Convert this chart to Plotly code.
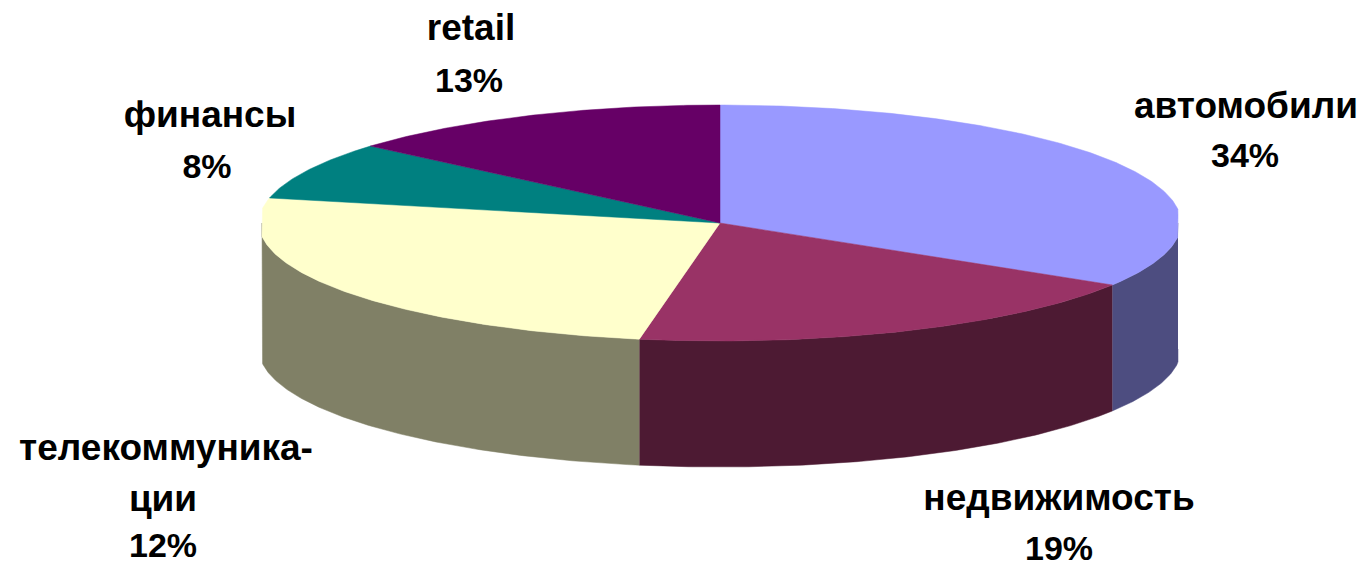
import numpy as np
import plotly.graph_objects as go

# slice shares (the printed labels differ for telecom)
categories = ["автомобили", "недвижимость", "телекоммуника-ции", "финансы", "retail"]
shares = [33.8, 19.0, 25.6, 7.9, 13.7]
top_colors = ["#9999FF", "#993366", "#FFFFCC", "#008080", "#660066"]
wall_colors = ["#4D4D80", "#4D1A33", "#808066", "#004040", "#330033"]

name_lines = ["retail", "финансы", "автомобили", "телекоммуника-", "ции", "недвижимость"]
name_x = [471, 210, 1246, 166, 163, 1059]
name_y = [31, 118, 109, 451, 502, 501]

pct_lines = ["13%", "8%", "34%", "12%", "19%"]
pct_x = [469, 207, 1245, 163, 1059]
pct_y = [83, 169, 158, 548, 551]

# pie geometry in page pixels, the ellipse is cut flat at the left and right edges
CX, CY = 720, 223
RX, RY = 461, 118
DEPTH = 126
LEFT, RIGHT = 262, 1178

WIDTH, HEIGHT = 1362, 566


def arc(a0, a1, dy=0.0):
    # angles are clockwise from 12 o'clock, in degrees
    t = np.radians(np.linspace(a0, a1, max(int(abs(a1 - a0)) * 2, 2)))
    return np.clip(CX + RX * np.sin(t), LEFT, RIGHT), CY - RY * np.cos(t) + dy


edges = np.concatenate([[0], np.cumsum(shares)]) / np.sum(shares) * 360

fig = go.Figure()

# side walls, only the front half of the pie is visible
for i, cat in enumerate(categories):
    a0, a1 = max(edges[i], 90), min(edges[i + 1], 270)
    if a1 <= a0:
        continue
    tx, ty = arc(a0, a1)
    bx, by = arc(a1, a0, DEPTH)
    fig.add_trace(go.Scatter(
        x=np.concatenate([tx, bx]), y=np.concatenate([ty, by]),
        mode="lines", fill="toself", fillcolor=wall_colors[i],
        line=dict(color=wall_colors[i], width=0.5),
        name=cat, hoverinfo="skip", showlegend=False,
    ))

# top faces
for i, cat in enumerate(categories):
    ax, ay = arc(edges[i], edges[i + 1])
    fig.add_trace(go.Scatter(
        x=np.concatenate([[CX], ax, [CX]]), y=np.concatenate([[CY], ay, [CY]]),
        mode="lines", fill="toself", fillcolor=top_colors[i],
        line=dict(color=top_colors[i], width=0.5),
        name=cat, hoverinfo="name", showlegend=False,
    ))

# labels: names are a bit wider than the percentages in the original
fig.add_trace(go.Scatter(
    x=name_x, y=name_y, text=name_lines, mode="text",
    textposition="middle center",
    textfont=dict(family="Liberation Sans", size=37, color="black", weight="bold"),
    hoverinfo="skip", showlegend=False,
))
fig.add_trace(go.Scatter(
    x=pct_x, y=pct_y, text=pct_lines, mode="text",
    textposition="middle center",
    textfont=dict(family="Liberation Sans", size=34, color="black", weight="bold"),
    hoverinfo="skip", showlegend=False,
))

fig.update_layout(
    width=WIDTH, height=HEIGHT,
    margin=dict(t=0, l=0, r=0, b=0),
    paper_bgcolor="white", plot_bgcolor="white",
    xaxis=dict(range=[0, WIDTH], visible=False, fixedrange=True),
    yaxis=dict(range=[HEIGHT, 0], visible=False, fixedrange=True),
)

fig.write_html("out.html", config=dict(displayModeBar=False),
               post_script="document.body.style.margin='0';")
